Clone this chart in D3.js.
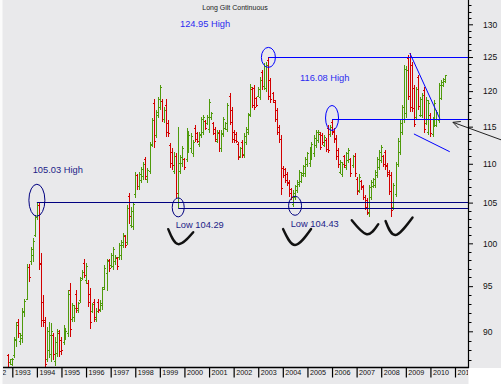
<!DOCTYPE html>
<html>
<head>
<meta charset="utf-8">
<script src="https://cdn.jsdelivr.net/npm/d3@7"></script>
<style>
html, body { margin: 0; padding: 0; background: #fff; }
svg { display: block; font-family: "Liberation Sans", Arial, sans-serif; }
</style>
</head>
<body>
<svg id="chart" width="501" height="384"></svg>
<script>
// monthly bars, first one is Nov 1992
var startMonth = "1992-11"

var opens = [
    87.4, 86.7,
    86.5, 87.4, 89.0, 91.0, 88.9, 89.2, 92.0, 93.5, 97.2, 97.8, 98.6, 101.0,
    103.1, 104.6, 97.5, 93.2, 91.2, 87.0, 88.0, 87.5, 89.5, 86.8, 87.6, 89.8,
    89.0, 88.8, 89.4, 89.8, 94.5, 91.3, 91.5, 94.0, 92.3, 93.4, 95.9, 97.6,
    95.6, 95.3, 94.0, 92.2, 93.2, 91.3, 93.2, 92.4, 92.8, 94.9, 96.5, 98.0,
    97.4, 97.3, 97.8, 98.2, 98.3, 98.6, 99.7, 100.8, 100.1, 105.8, 102.2, 102.0,
    106.0, 108.5, 107.0, 107.8, 108.3, 110.5, 107.9, 109.0, 112.6, 118.3, 113.8, 116.5,
    117.7, 118.5, 116.0, 118.0, 115.4, 112.4, 111.5, 109.0, 111.0, 105.0, 109.0, 110.0,
    110.5, 110.5, 111.8, 112.0, 111.3, 114.8, 114.0, 112.6, 113.8, 114.2, 115.7, 115.4,
    114.6, 116.2, 115.4, 114.6, 113.0, 114.1, 112.0, 113.9, 114.7, 114.6, 119.2, 117.2,
    114.2, 113.9, 112.6, 111.0, 112.9, 111.2, 112.8, 114.2, 116.7, 120.2, 120.4, 118.9,
    119.3, 119.1, 122.7, 120.6, 120.4, 124.5, 121.5, 119.7, 118.4, 117.3, 114.9, 113.3,
    109.4, 109.2, 108.6, 107.6, 106.6, 104.8, 105.6, 106.5, 107.3, 107.7, 108.5, 108.7,
    109.9, 110.0, 110.8, 111.3, 112.4, 113.1, 113.9, 113.8, 112.5, 113.1, 114.8, 113.9,
    115.6, 114.4, 113.4, 111.7, 108.9, 108.6, 110.9, 109.5, 110.4, 110.5, 109.8, 111.0,
    108.0, 106.5, 107.7, 107.0, 105.7, 105.3, 103.6, 105.6, 107.1, 107.2, 108.5, 109.5,
    110.4, 111.0, 111.5, 109.8, 108.9, 108.5, 104.4, 106.0, 109.9, 111.5, 114.2, 116.0,
    116.8, 124.8, 125.0, 123.8, 120.4, 116.3, 122.0, 116.6, 116.5, 120.1, 115.5, 114.2,
    116.6, 113.9, 115.2, 115.2, 115.9, 119.0, 120.8, 121.4
]

var highs = [
    87.6, 87.1,
    87.2, 89.4, 91.0, 91.3, 89.8, 92.5, 93.6, 97.6, 97.6, 99.6, 100.6, 103.4,
    105.03, 104.9, 98.9, 94.0, 91.6, 90.5, 91.0, 90.9, 89.8, 89.4, 90.3, 90.1,
    89.4, 90.7, 90.3, 94.6, 95.4, 93.1, 92.9, 94.6, 93.2, 96.0, 96.9, 98.1,
    97.7, 95.7, 94.8, 93.1, 93.6, 92.5, 93.6, 93.4, 94.9, 97.4, 98.2, 98.2,
    98.9, 99.6, 98.6, 98.4, 100.0, 100.4, 101.3, 101.0, 104.7, 106.2, 104.5, 105.1,
    108.9, 108.7, 108.9, 109.6, 110.2, 110.9, 109.4, 112.9, 116.2, 118.9, 117.3, 119.1,
    120.9, 118.9, 117.7, 118.9, 115.9, 112.8, 112.1, 111.5, 111.4, 114.9, 111.2, 112.3,
    110.7, 114.8, 114.2, 114.1, 113.2, 115.2, 114.2, 114.2, 116.3, 116.6, 115.9, 116.6,
    118.9, 117.0, 115.6, 114.9, 114.5, 114.5, 114.5, 116.3, 115.6, 118.3, 119.7, 117.7,
    114.5, 114.2, 112.9, 112.2, 113.2, 114.1, 114.9, 116.9, 121.0, 120.6, 120.9, 119.1,
    120.6, 122.0, 123.1, 124.1, 124.3, 124.95, 121.9, 119.9, 118.7, 117.6, 115.2, 113.8,
    109.7, 109.5, 108.9, 107.9, 106.9, 106.6, 107.3, 107.9, 109.2, 108.9, 109.8, 110.9,
    111.6, 112.2, 112.9, 113.8, 114.5, 114.5, 114.2, 114.1, 113.8, 113.4, 115.2, 115.2,
    116.08, 114.8, 113.8, 112.1, 110.5, 110.2, 111.2, 111.6, 112.1, 110.8, 111.2, 111.4,
    108.3, 108.6, 107.9, 107.3, 106.0, 105.6, 107.3, 107.9, 108.2, 109.2, 110.9, 111.8,
    112.5, 111.2, 111.8, 110.1, 109.2, 108.9, 107.5, 110.2, 113.4, 115.9, 118.0, 123.8,
    123.6, 125.3, 125.6, 124.3, 120.9, 120.6, 122.4, 119.1, 119.8, 120.6, 119.1, 118.7,
    116.9, 116.3, 118.7, 117.3, 121.2, 121.6, 121.9, 122.4
]

var lows = [
    85.7, 86.4,
    86.3, 87.2, 88.3, 89.3, 88.5, 88.7, 91.6, 93.4, 95.5, 97.4, 97.8, 100.8,
    102.8, 96.9, 90.5, 90.5, 85.7, 86.7, 87.2, 86.7, 87.0, 86.3, 87.3, 87.3,
    87.5, 88.5, 89.1, 89.4, 89.4, 91.0, 91.0, 92.0, 92.0, 93.1, 95.7, 95.9,
    95.2, 92.7, 90.3, 92.0, 91.0, 91.0, 92.0, 92.1, 92.3, 94.6, 94.4, 96.6,
    97.1, 96.9, 97.4, 96.9, 98.0, 98.0, 99.4, 99.4, 99.8, 102.4, 101.8, 101.6,
    105.6, 106.6, 106.6, 107.5, 107.9, 107.9, 107.5, 108.6, 112.2, 112.1, 113.4, 116.2,
    117.3, 115.6, 115.5, 113.6, 113.6, 109.5, 109.2, 108.6, 105.6, 104.29, 108.6, 109.6,
    109.2, 110.2, 111.4, 111.4, 110.9, 112.9, 112.8, 112.2, 113.4, 113.8, 114.5, 115.2,
    114.1, 115.9, 113.8, 112.9, 112.8, 111.6, 111.6, 113.6, 114.5, 114.2, 115.2, 112.8,
    112.8, 112.8, 110.5, 110.8, 110.8, 110.8, 112.5, 113.8, 116.3, 117.6, 117.3, 117.7,
    119.1, 118.7, 120.2, 120.2, 119.9, 118.7, 118.3, 118.3, 115.6, 113.8, 112.8, 106.0,
    108.2, 107.5, 107.1, 105.7, 105.3, 104.43, 105.3, 106.2, 107.0, 107.5, 108.3, 108.3,
    109.6, 109.6, 110.5, 110.9, 112.1, 112.8, 111.8, 112.5, 112.2, 111.6, 111.4, 113.6,
    113.8, 112.8, 110.5, 109.5, 108.6, 108.3, 109.5, 109.2, 110.1, 108.3, 109.5, 108.3,
    106.0, 106.2, 106.6, 105.3, 104.1, 103.4, 103.2, 105.3, 106.9, 106.9, 108.2, 109.2,
    110.1, 109.6, 109.2, 108.3, 106.0, 103.2, 104.1, 105.7, 109.6, 111.2, 113.8, 115.5,
    116.2, 118.7, 117.0, 117.0, 114.9, 115.9, 117.3, 116.3, 116.2, 114.1, 115.2, 113.8,
    113.6, 113.6, 114.9, 114.9, 115.5, 118.7, 120.6, 121.2
]

var closes = [
    86.0, 87.0,
    87.0, 89.1, 90.6, 89.8, 89.6, 92.2, 93.3, 97.2, 96.0, 99.3, 100.2, 103.1,
    104.6, 97.6, 91.2, 91.0, 86.5, 90.0, 89.5, 90.0, 87.5, 88.8, 90.0, 87.8,
    88.0, 90.3, 90.0, 94.0, 90.2, 92.8, 92.5, 92.5, 93.0, 95.7, 96.6, 96.2,
    97.3, 93.2, 91.0, 92.9, 91.5, 92.2, 92.3, 93.1, 94.6, 97.0, 97.9, 97.0,
    98.6, 99.3, 98.3, 97.3, 99.7, 100.1, 101.0, 99.8, 104.3, 103.3, 103.9, 104.8,
    108.5, 107.0, 108.6, 109.3, 109.9, 108.4, 109.1, 112.5, 115.8, 113.0, 116.9, 118.8,
    120.5, 116.0, 117.3, 114.2, 114.0, 110.0, 109.8, 111.0, 106.2, 110.0, 110.8, 112.0,
    109.5, 114.3, 113.8, 113.7, 112.8, 113.3, 113.0, 113.9, 116.0, 116.2, 114.8, 116.3,
    118.4, 116.8, 114.1, 113.2, 114.2, 112.0, 114.0, 116.0, 115.4, 117.9, 115.6, 113.2,
    113.1, 113.0, 110.8, 112.0, 111.1, 113.7, 114.6, 116.5, 120.5, 118.0, 117.7, 117.9,
    120.3, 121.6, 120.6, 123.6, 123.8, 119.3, 118.8, 118.6, 116.0, 114.2, 113.2, 106.8,
    108.5, 107.8, 107.4, 106.1, 105.6, 106.2, 107.0, 107.6, 108.9, 108.7, 109.6, 110.5,
    111.3, 111.9, 112.6, 113.4, 114.2, 114.2, 112.2, 112.8, 113.5, 111.9, 111.8, 114.9,
    114.2, 113.2, 111.0, 109.9, 110.2, 109.9, 109.8, 111.3, 111.8, 108.7, 110.9, 108.7,
    106.4, 108.2, 106.9, 105.6, 104.4, 103.8, 106.9, 107.6, 108.0, 108.9, 110.6, 111.5,
    112.2, 109.9, 109.6, 108.6, 106.4, 104.0, 107.2, 109.9, 113.0, 115.5, 117.6, 123.2,
    123.0, 119.3, 117.6, 117.5, 115.3, 120.2, 117.8, 118.8, 119.4, 114.6, 118.7, 118.2,
    114.0, 116.0, 118.3, 117.0, 120.8, 121.3, 121.7, 122.2
]

var priceTicks = [90, 95, 100, 105, 110, 115, 120, 125, 130]
var minorTicks = d3.range(87, 134).filter(function (v) { return v % 5 !== 0 })
var yearTicks = d3.range(1992, 2012)

// marked highs / lows: horizontal levels and circles
var levels = [
    { price: 105.03, from: "1994-01", color: "#000080" },
    { price: 104.29, from: "1999-10", color: "#000080" },
    { price: 124.95, from: "2003-06", color: "#0000ff" },
    { price: 116.08, from: "2006-01", color: "#0000ff" }
]
var ovals = [
    { month: "1994-01", price: 105.3, rx: 8, ry: 16, color: "#000080" },
    { month: "1999-10", price: 104.4, rx: 6, ry: 9.5, color: "#000080" },
    { month: "2004-07", price: 104.6, rx: 6.5, ry: 9.5, color: "#000080" },
    { month: "2003-06", price: 124.95, rx: 7, ry: 10, color: "#0000ff" },
    { month: "2006-01", price: 116.2, rx: 6.5, ry: 12.5, color: "#0000ff" }
]
var wedge = [
    [["2009-03", 125.6], ["2010-05-20", 116.1]],
    [["2009-05", 114.0], ["2010-10-15", 111.6]]
]
var arrow = { tip: ["2010-12", 115.6], tail: ["2012-11-15", 113.2] }
var smiles = [
    { month: "1999-10", price: 99.9, left: [-10, -15], right: [15, -12] },
    { month: "2004-07", price: 99.8, left: [-12, -16], right: [16, -16] },
    { month: "2007-06", price: 101.1, left: [-15, -14], right: [11.5, -10] },
    { month: "2008-08", price: 101.0, left: [-10, -14], right: [17, -17.5] }
]
var notes = [
    { text: "124.95 High", x: 180, y: 27, color: "#2b2bf0" },
    { text: "116.08 High", x: 300, y: 80.5, color: "#2b2bf0" },
    { text: "105.03 High", x: 32.7, y: 173, color: "#1c1c88" },
    { text: "Low 104.29", x: 175.7, y: 228, color: "#1c1c88" },
    { text: "Low 104.43", x: 290.7, y: 227, color: "#1c1c88" }
]

var parseMonth = d3.timeParse("%Y-%m")
var parseDay = d3.timeParse("%Y-%m-%d")
function toDate(s) { return s.length > 7 ? parseDay(s) : parseMonth(s) }

var bars = opens.map(function (o, i) {
    return {
        date: d3.timeMonth.offset(parseMonth(startMonth), i),
        open: o, high: highs[i], low: lows[i], close: closes[i]
    }
})

var svg = d3.select("#chart"),
    width = +svg.attr("width"),
    height = +svg.attr("height"),
    plot = { left: 3, right: 468, top: 0, bottom: 367.5 }

var x = d3.scaleTime()
    .domain([new Date(1993, 0, 1), new Date(2011, 0, 1)])
    .range([12.3, 455])

var y = d3.scaleLog()
    .domain([90, 130])
    .range([331.3, 24.3])

function px(p) { return x(toDate(p[0])) }
function py(p) { return y(p[1]) }

// background
svg.append("rect").attr("width", width).attr("height", height).attr("fill", "#e9e9eb")
svg.append("rect").attr("width", 2.5).attr("height", height).attr("fill", "#fbfbfb")
svg.append("rect").attr("x", plot.right + 0.5).attr("y", plot.bottom + 0.5)
    .attr("width", width).attr("height", height).attr("fill", "#ffffff")

var defs = svg.append("defs")
defs.append("clipPath").attr("id", "plotClip").append("rect")
    .attr("x", plot.left).attr("y", plot.top)
    .attr("width", plot.right - plot.left).attr("height", plot.bottom - plot.top)
defs.append("clipPath").attr("id", "xClip").append("rect")
    .attr("x", plot.left).attr("y", plot.bottom)
    .attr("width", plot.right - plot.left).attr("height", height - plot.bottom)

// title
svg.append("text")
    .attr("x", 202.3).attr("y", 9.5)
    .attr("font-size", "7px").attr("fill", "#1a1a1a")
    .text("Long Gilt Continuous")

// OHLC bars
var barG = svg.append("g").attr("clip-path", "url(#plotClip)")
barG.selectAll("path.bar")
    .data(bars)
    .enter().append("path")
    .attr("class", "bar")
    .attr("fill", "none")
    .attr("stroke", function (d) { return d.close >= d.open ? "#4f9a0b" : "#d20000" })
    .attr("stroke-width", 1)
    .attr("shape-rendering", "crispEdges")
    .attr("d", function (d) {
        var xi = Math.round(x(d.date)) + 0.5
        return "M" + xi + "," + y(d.high) + "V" + y(d.low) +
            "M" + (xi - 1.5) + "," + y(d.open) + "H" + xi +
            "M" + xi + "," + y(d.close) + "H" + (xi + 1.5)
    })

// horizontal levels
var annG = svg.append("g")
annG.selectAll("line.level")
    .data(levels)
    .enter().append("line")
    .attr("class", "level")
    .attr("x1", function (d) { return x(toDate(d.from)) })
    .attr("x2", plot.right)
    .attr("y1", function (d) { return Math.round(y(d.price)) + 0.5 })
    .attr("y2", function (d) { return Math.round(y(d.price)) + 0.5 })
    .attr("stroke", function (d) { return d.color })
    .attr("stroke-width", 1.1)

annG.selectAll("ellipse")
    .data(ovals)
    .enter().append("ellipse")
    .attr("cx", function (d) { return x(toDate(d.month)) })
    .attr("cy", function (d) { return y(d.price) })
    .attr("rx", function (d) { return d.rx })
    .attr("ry", function (d) { return d.ry })
    .attr("fill", "none")
    .attr("stroke", function (d) { return d.color })
    .attr("stroke-width", 1)

annG.selectAll("line.wedge")
    .data(wedge)
    .enter().append("line")
    .attr("class", "wedge")
    .attr("x1", function (d) { return px(d[0]) })
    .attr("y1", function (d) { return py(d[0]) })
    .attr("x2", function (d) { return px(d[1]) })
    .attr("y2", function (d) { return py(d[1]) })
    .attr("stroke", "#0000ff")
    .attr("stroke-width", 1)

// smiles under the lows
var smileLine = d3.line().curve(d3.curveNatural)
annG.selectAll("path.smile")
    .data(smiles)
    .enter().append("path")
    .attr("class", "smile")
    .attr("fill", "none")
    .attr("stroke", "#111")
    .attr("stroke-width", 2.4)
    .attr("stroke-linecap", "round")
    .attr("d", function (d) {
        var cx = x(toDate(d.month)), cy = y(d.price)
        return smileLine([
            [cx + d.left[0], cy + d.left[1]],
            [cx, cy],
            [cx + d.right[0], cy + d.right[1]]
        ])
    })

// arrow pointing at the 116.08 level
var ax1 = px(arrow.tip), ay1 = py(arrow.tip),
    ax2 = px(arrow.tail), ay2 = py(arrow.tail)
var ang = Math.atan2(ay2 - ay1, ax2 - ax1)
annG.append("path")
    .attr("fill", "none")
    .attr("stroke", "#222")
    .attr("stroke-width", 1)
    .attr("d", "M" + ax2 + "," + ay2 + "L" + ax1 + "," + ay1 +
        "M" + (ax1 + 8 * Math.cos(ang - 0.45)) + "," + (ay1 + 8 * Math.sin(ang - 0.45)) +
        "L" + ax1 + "," + ay1 +
        "L" + (ax1 + 8 * Math.cos(ang + 0.45)) + "," + (ay1 + 8 * Math.sin(ang + 0.45)))

annG.selectAll("text.note")
    .data(notes)
    .enter().append("text")
    .attr("class", "note")
    .attr("x", function (d) { return d.x })
    .attr("y", function (d) { return d.y })
    .attr("font-size", "9.3px")
    .attr("fill", function (d) { return d.color })
    .text(function (d) { return d.text })

// y axis on the right
var yAxisG = svg.append("g").attr("transform", "translate(" + plot.right + ",0)")
yAxisG.append("line")
    .attr("x1", 0.5).attr("x2", 0.5).attr("y1", 0).attr("y2", plot.bottom + 0.5)
    .attr("stroke", "#000").attr("stroke-width", 1.2)
yAxisG.selectAll("line.minor")
    .data(minorTicks)
    .enter().append("line")
    .attr("class", "minor")
    .attr("x1", 0.5).attr("x2", 3.5)
    .attr("y1", function (d) { return Math.round(y(d)) + 0.5 })
    .attr("y2", function (d) { return Math.round(y(d)) + 0.5 })
    .attr("stroke", "#000")
var yAxis = yAxisG.append("g")
    .call(d3.axisRight(y).tickValues(priceTicks).tickSize(5).tickFormat(d3.format("d")))
yAxis.select(".domain").remove()
yAxis.selectAll(".tick line").attr("stroke", "#000").attr("x1", 0.5)
yAxis.selectAll(".tick text")
    .attr("x", 15)
    .attr("font-size", "8.5px")
    .attr("font-family", "'Liberation Sans', Arial, sans-serif")
    .attr("fill", "#111")

// x axis at the bottom
var xAxisG = svg.append("g").attr("clip-path", "url(#xClip)")
var xAxis = xAxisG.append("g")
    .attr("transform", "translate(0," + plot.bottom + ")")
    .call(d3.axisBottom(x)
        .tickValues(yearTicks.map(function (yr) { return new Date(yr, 0, 1) }))
        .tickSize(10)
        .tickSizeOuter(0)
        .tickFormat(d3.timeFormat("%Y")))
xAxis.select(".domain").remove()
xAxis.selectAll(".tick line").attr("stroke", "#000").attr("stroke-width", 1.2)
xAxis.selectAll(".tick text")
    .attr("x", 2)
    .attr("y", 2.8)
    .attr("text-anchor", "start")
    .attr("font-size", "7.2px")
    .attr("font-family", "'Liberation Sans', Arial, sans-serif")
    .attr("fill", "#111")
svg.append("line")
    .attr("x1", plot.left).attr("x2", plot.right + 1)
    .attr("y1", plot.bottom).attr("y2", plot.bottom)
    .attr("stroke", "#000").attr("stroke-width", 1.4)
</script>
</body>
</html>
